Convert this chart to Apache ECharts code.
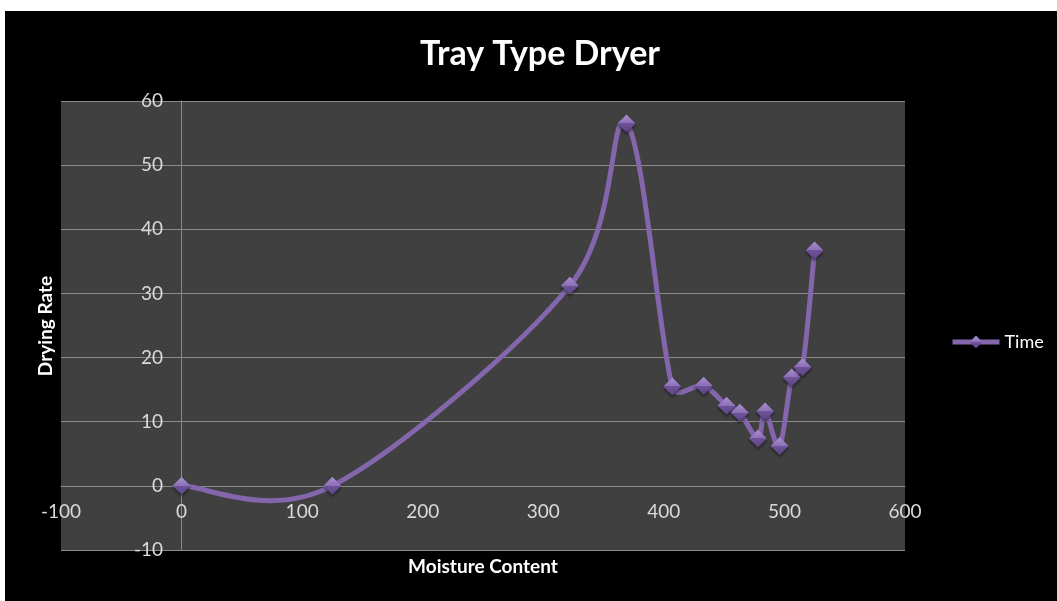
<!DOCTYPE html>
<html>
<head>
<meta charset="utf-8">
<style>
  html, body { margin: 0; padding: 0; background: #ffffff; }
  #chart { width: 1057px; height: 601px; }
</style>
<script src="https://cdn.jsdelivr.net/npm/echarts@6/dist/echarts.min.js"></script>
</head>
<body>
<div id="chart"></div>
<script>
// Tray type dryer: drying rate against moisture content
const moisture = [0, 125, 322, 369, 407, 433, 452, 463, 478, 484, 496, 506, 515, 525];
const dryingRate = [0, 0, 31.2, 56.5, 15.5, 15.6, 12.5, 11.4, 7.4, 11.6, 6.2, 16.9, 18.5, 36.7];
const seriesName = 'Time';
const xTicks = { min: -100, max: 600, interval: 100 };
const yTicks = { min: -10, max: 60, interval: 10 };

const points = moisture.map((x, i) => [x, dryingRate[i]]);

const font = 'Lato, "Open Sans", sans-serif';
const purple = '#8466ad';
const gridColor = '#8a8a8a';
const diamondFill = {
  type: 'linear', x: 0, y: 0, x2: 0, y2: 1,
  colorStops: [
    { offset: 0, color: '#a98fd2' },
    { offset: 0.5, color: '#8b6fb7' },
    { offset: 0.5, color: '#6e5399' },
    { offset: 1, color: '#5c4385' }
  ]
};

// Smoothed curve through the projected points: cubic Bezier segments whose
// tangents are 1/6 of the neighbour chord, each arm capped at half its segment.
function renderCurve(params, api) {
  if (params.dataIndex !== 0) return null;
  const p = points.map(d => api.coord(d));
  const n = p.length;
  const dist = (a, b) => Math.hypot(b[0] - a[0], b[1] - a[1]);
  const fwd = [], back = [];
  for (let i = 0; i < n; i++) {
    const prev = p[Math.max(i - 1, 0)];
    const next = p[Math.min(i + 1, n - 1)];
    const mx = (next[0] - prev[0]) / 6;
    const my = (next[1] - prev[1]) / 6;
    const len = Math.hypot(mx, my) || 1;
    const dPrev = i > 0 ? dist(p[i - 1], p[i]) : 0;
    const dNext = i < n - 1 ? dist(p[i], p[i + 1]) : 0;
    const sb = Math.min(1, (dPrev / 2) / len);
    const sf = Math.min(1, (dNext / 2) / len);
    back.push([p[i][0] - mx * sb, p[i][1] - my * sb]);
    fwd.push([p[i][0] + mx * sf, p[i][1] + my * sf]);
  }
  const children = [];
  for (let i = 0; i < n - 1; i++) {
    children.push({
      type: 'bezierCurve',
      shape: {
        x1: p[i][0], y1: p[i][1],
        cpx1: fwd[i][0], cpy1: fwd[i][1],
        cpx2: back[i + 1][0], cpy2: back[i + 1][1],
        x2: p[i + 1][0], y2: p[i + 1][1]
      },
      style: { stroke: purple, lineWidth: 5, fill: null, lineCap: 'round' }
    });
  }
  return { type: 'group', children: children };
}

const chart = echarts.init(document.getElementById('chart'), null, { renderer: 'canvas' });
chart.setOption({
  backgroundColor: '#000000',
  animation: false,
  title: {
    text: 'Tray Type Dryer',
    left: 535, top: 32, textAlign: 'center',
    textStyle: { color: '#ffffff', fontFamily: font, fontWeight: 'bold', fontSize: 34 }
  },
  legend: {
    left: 945, top: 328,
    itemWidth: 47, itemHeight: 16,
    data: [seriesName],
    lineStyle: { color: purple, width: 5, opacity: 1 },
    textStyle: { color: '#ffffff', fontFamily: font, fontSize: 18 }
  },
  grid: {
    left: 61, top: 101, width: 844, height: 449,
    show: true, backgroundColor: '#404040', borderWidth: 0
  },
  xAxis: {
    type: 'value',
    position: 'bottom',
    offset: -64,
    min: xTicks.min, max: xTicks.max, interval: xTicks.interval,
    axisLine: { show: true, onZero: false, lineStyle: { color: gridColor, width: 1 } },
    axisTick: { show: false },
    splitLine: { show: false },
    axisLabel: { color: '#d9d9d9', fontFamily: font, fontSize: 19, margin: 16 }
  },
  yAxis: {
    type: 'value',
    position: 'left',
    offset: -120,
    min: yTicks.min, max: yTicks.max, interval: yTicks.interval,
    axisLine: { show: true, onZero: false, lineStyle: { color: gridColor, width: 1 } },
    axisTick: { show: false },
    splitLine: { show: true, lineStyle: { color: gridColor, width: 1 } },
    axisLabel: { color: '#d9d9d9', fontFamily: font, fontSize: 19, margin: 18 }
  },
  graphic: [
    { type: 'rect', left: 0, top: 0, shape: { width: 1057, height: 11 }, style: { fill: '#ffffff' } },
    { type: 'rect', left: 0, top: 0, shape: { width: 5, height: 601 }, style: { fill: '#ffffff' } },
    {
      type: 'text', x: 483, y: 567,
      style: { text: 'Moisture Content', fill: '#ffffff', font: 'bold 19px ' + font, textAlign: 'center', textVerticalAlign: 'middle' }
    },
    {
      type: 'text', x: 46, y: 326, rotation: Math.PI / 2,
      style: { text: 'Drying Rate', fill: '#ffffff', font: 'bold 19px ' + font, textAlign: 'center', textVerticalAlign: 'middle' }
    }
  ],
  series: [
    {
      name: 'curve',
      type: 'custom',
      renderItem: renderCurve,
      data: points,
      z: 2,
      silent: true
    },
    {
      name: seriesName,
      type: 'line',
      data: points,
      symbol: 'diamond',
      symbolSize: 18,
      lineStyle: { opacity: 0 },
      itemStyle: { color: diamondFill, borderWidth: 0, shadowColor: 'rgba(0,0,0,0.5)', shadowBlur: 3, shadowOffsetY: 2 },
      z: 3
    }
  ]
});
</script>
</body>
</html>
